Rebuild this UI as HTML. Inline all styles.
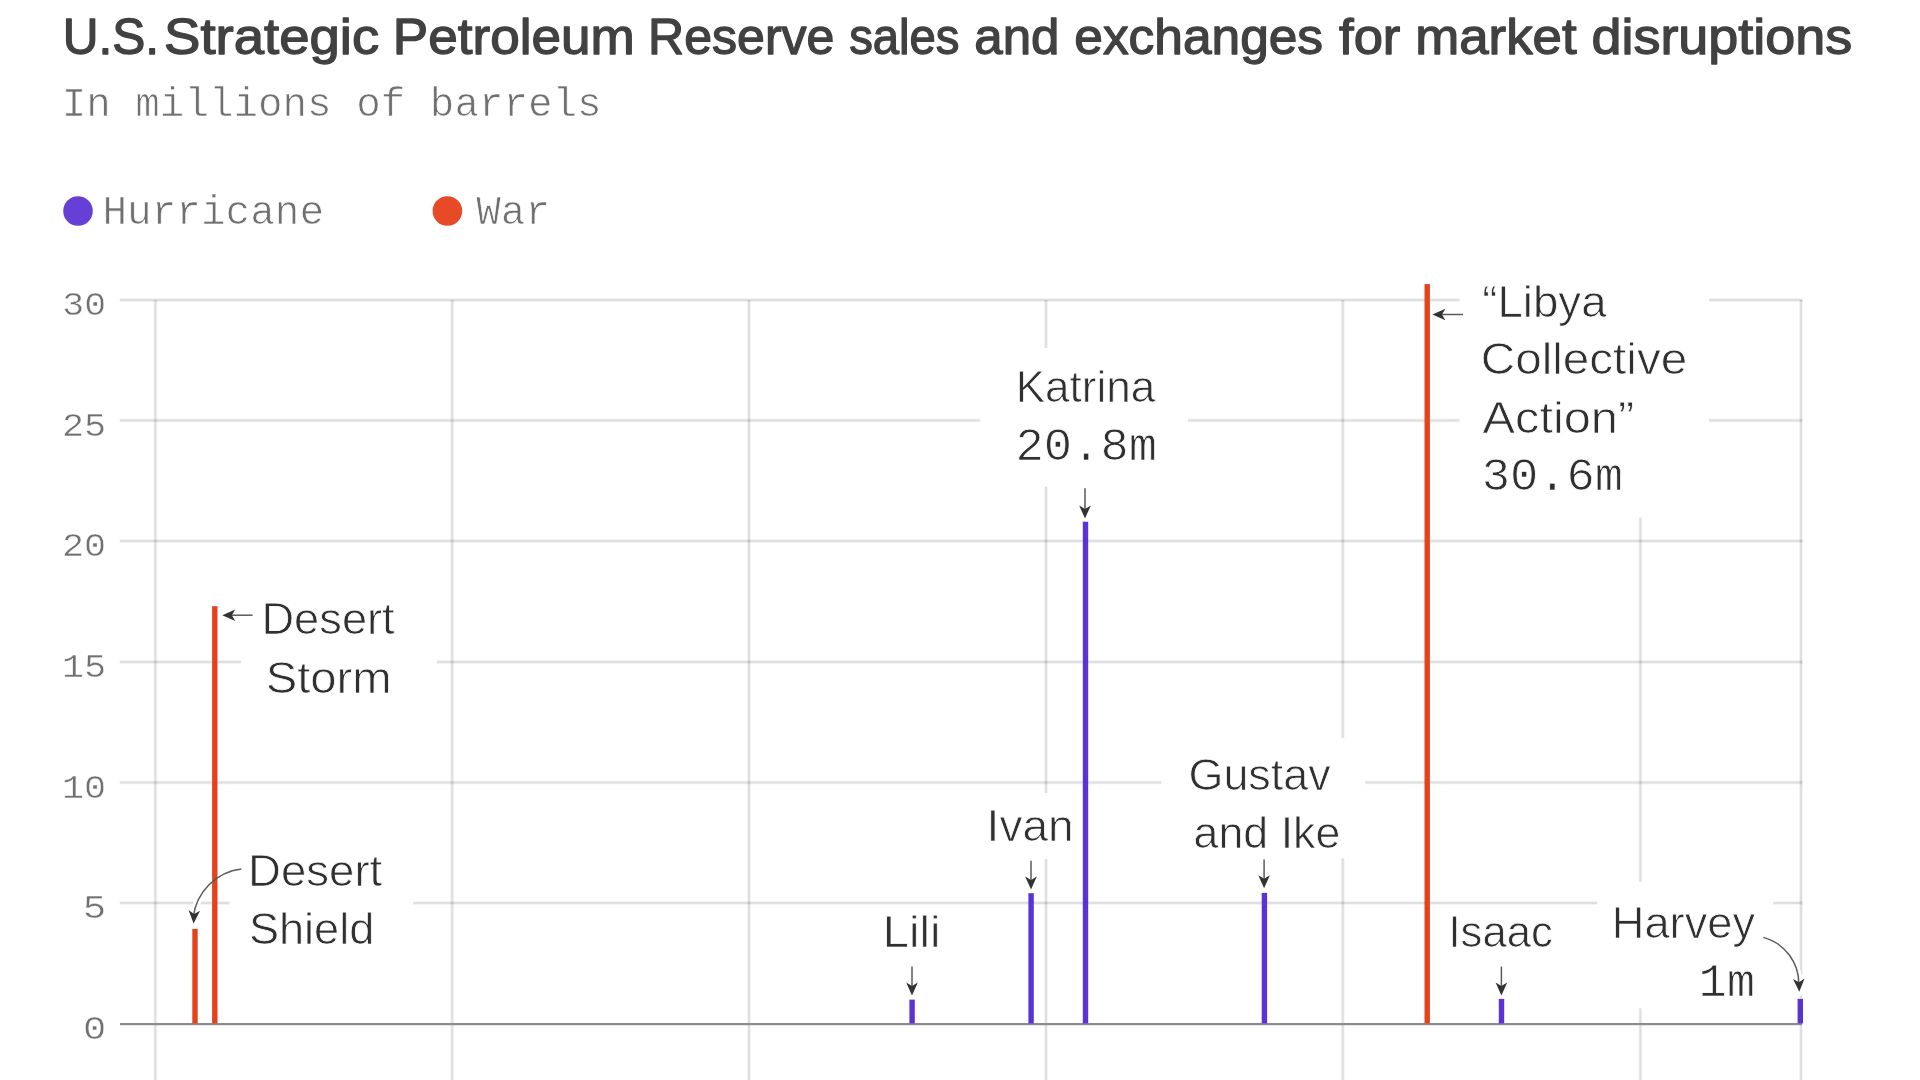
<!DOCTYPE html>
<html lang="en">
<head>
<meta charset="utf-8">
<title>U.S. Strategic Petroleum Reserve sales and exchanges for market disruptions</title>
<style>
html,body{margin:0;padding:0;background:#fff;}
body{width:1920px;height:1080px;overflow:hidden;}
svg{display:block;will-change:transform;}
text{white-space:pre;}
.s{font-family:"Liberation Sans",Arial,Helvetica,sans-serif;}
.m{font-family:"Liberation Mono","DejaVu Sans Mono",monospace;}
</style>
</head>
<body>
<svg width="1920" height="1080" viewBox="0 0 1920 1080" role="img" aria-label="U.S. Strategic Petroleum Reserve sales and exchanges for market disruptions">
<rect width="1920" height="1080" fill="#fff"/>
<g id="grid">
<rect x="119.5" y="298.0" width="1683.5" height="4" fill="rgba(0,0,0,.043)"/>
<rect x="119.5" y="418.5" width="1683.5" height="4" fill="rgba(0,0,0,.043)"/>
<rect x="119.5" y="539.0" width="1683.5" height="4" fill="rgba(0,0,0,.043)"/>
<rect x="119.5" y="660.0" width="1683.5" height="4" fill="rgba(0,0,0,.043)"/>
<rect x="119.5" y="780.5" width="1683.5" height="4" fill="rgba(0,0,0,.043)"/>
<rect x="119.5" y="901.0" width="1683.5" height="4" fill="rgba(0,0,0,.043)"/>
<rect x="153.4" y="300" width="4" height="780" fill="rgba(0,0,0,.043)"/>
<rect x="450.2" y="300" width="4" height="780" fill="rgba(0,0,0,.043)"/>
<rect x="747.0" y="300" width="4" height="780" fill="rgba(0,0,0,.043)"/>
<rect x="1044.0" y="300" width="4" height="780" fill="rgba(0,0,0,.043)"/>
<rect x="1340.8" y="300" width="4" height="780" fill="rgba(0,0,0,.043)"/>
<rect x="1638.4" y="300" width="4" height="780" fill="rgba(0,0,0,.043)"/>
<rect x="1799.0" y="300" width="4" height="780" fill="rgba(0,0,0,.043)"/>
<rect x="120" y="299.0" width="1682" height="2" fill="rgba(0,0,0,.088)"/>
<rect x="120" y="419.5" width="1682" height="2" fill="rgba(0,0,0,.088)"/>
<rect x="120" y="540.0" width="1682" height="2" fill="rgba(0,0,0,.088)"/>
<rect x="120" y="661.0" width="1682" height="2" fill="rgba(0,0,0,.088)"/>
<rect x="120" y="781.5" width="1682" height="2" fill="rgba(0,0,0,.088)"/>
<rect x="120" y="902.0" width="1682" height="2" fill="rgba(0,0,0,.088)"/>
<rect x="154.4" y="300" width="2" height="780" fill="rgba(0,0,0,.088)"/>
<rect x="451.2" y="300" width="2" height="780" fill="rgba(0,0,0,.088)"/>
<rect x="748.0" y="300" width="2" height="780" fill="rgba(0,0,0,.088)"/>
<rect x="1045.0" y="300" width="2" height="780" fill="rgba(0,0,0,.088)"/>
<rect x="1341.8" y="300" width="2" height="780" fill="rgba(0,0,0,.088)"/>
<rect x="1639.4" y="300" width="2" height="780" fill="rgba(0,0,0,.088)"/>
<rect x="1800.0" y="300" width="2" height="780" fill="rgba(0,0,0,.088)"/>
</g>
<g id="label-bg" fill="#fff">
<rect x="241" y="590" width="196.0" height="130.0"/>
<rect x="229.6" y="840" width="183.7" height="120.0"/>
<rect x="1020" y="793" width="50.0" height="66.0"/>
<rect x="980.2" y="348.1" width="207.7" height="138.4"/>
<rect x="1161.3" y="738" width="204.0" height="120.4"/>
<rect x="1459.6" y="262" width="249.5" height="255.5"/>
<rect x="1597.2" y="881.9" width="176.1" height="126.4"/>
</g>
<g id="arrow-bg" fill="#fff" stroke="#fff" stroke-linejoin="round" stroke-linecap="round">
<path d="M252.6 615.2H228.3" fill="none" stroke-width="7"/><path d="M222.3 615.2L235.3 621.0L231.8 615.2L235.3 609.4Z" stroke-width="8"/>
<path d="M1463 314.5H1438.4" fill="none" stroke-width="7"/><path d="M1432.4 314.5L1445.4 320.3L1441.9 314.5L1445.4 308.7Z" stroke-width="8"/>
<path d="M912 966.6V989.5" fill="none" stroke-width="7"/><path d="M912.0 995.5L917.8 982.5L912.0 986.0L906.2 982.5Z" stroke-width="8"/>
<path d="M1031 860.7V883.6" fill="none" stroke-width="7"/><path d="M1031.0 889.6L1036.8 876.6L1031.0 880.1L1025.2 876.6Z" stroke-width="8"/>
<path d="M1085 488.3V512.5" fill="none" stroke-width="7"/><path d="M1085.0 518.5L1090.8 505.5L1085.0 509.0L1079.2 505.5Z" stroke-width="8"/>
<path d="M1264.1 859.5V882.2" fill="none" stroke-width="7"/><path d="M1264.1 888.2L1269.9 875.2L1264.1 878.7L1258.3 875.2Z" stroke-width="8"/>
<path d="M1501.4 966.5V989.6" fill="none" stroke-width="7"/><path d="M1501.4 995.6L1507.2 982.6L1501.4 986.1L1495.6 982.6Z" stroke-width="8"/>
<path d="M241.3 869A55 55 0 0 0 193.3 917" fill="none" stroke-width="7"/><path d="M193.6 923.4L200.1 910.7L194.1 913.9L188.5 910.1Z" stroke-width="8"/>
<path d="M1763.3 937.4A48 48 0 0 1 1798.8 985" fill="none" stroke-width="7"/><path d="M1799.3 991.7L1804.6 978.5L1799.0 982.2L1793.0 978.9Z" stroke-width="8"/>
</g>
<rect id="axis" x="120" y="1023" width="1682" height="2.2" fill="#8c8c8c"/>
<g id="bars">
<rect x="192.3" y="928.9" width="5.4" height="94.5" fill="#e4421a"/>
<rect x="212.1" y="606.2" width="5.4" height="417.2" fill="#e4421a"/>
<rect x="909.4" y="999.6" width="5.4" height="23.8" fill="#5a33d6"/>
<rect x="1028.4" y="893.2" width="5.4" height="130.2" fill="#5a33d6"/>
<rect x="1082.8" y="521.7" width="5.4" height="501.7" fill="#5a33d6"/>
<rect x="1261.7" y="892.9" width="5.4" height="130.5" fill="#5a33d6"/>
<rect x="1424.5" y="284.1" width="5.4" height="739.3" fill="#e4421a"/>
<rect x="1498.8" y="998.9" width="5.4" height="24.5" fill="#5a33d6"/>
<rect x="1797.6" y="998.9" width="5.4" height="24.5" fill="#5a33d6"/>
</g>
<g id="arrows">
<path d="M252.6 615.2H228.3" fill="none" stroke="#5a5a5a" stroke-width="1.5"/><path d="M222.3 615.2L235.3 621.0L231.8 615.2L235.3 609.4Z" fill="#333333"/>
<path d="M1463 314.5H1438.4" fill="none" stroke="#5a5a5a" stroke-width="1.5"/><path d="M1432.4 314.5L1445.4 320.3L1441.9 314.5L1445.4 308.7Z" fill="#333333"/>
<path d="M912 966.6V989.5" fill="none" stroke="#5a5a5a" stroke-width="1.5"/><path d="M912.0 995.5L917.8 982.5L912.0 986.0L906.2 982.5Z" fill="#333333"/>
<path d="M1031 860.7V883.6" fill="none" stroke="#5a5a5a" stroke-width="1.5"/><path d="M1031.0 889.6L1036.8 876.6L1031.0 880.1L1025.2 876.6Z" fill="#333333"/>
<path d="M1085 488.3V512.5" fill="none" stroke="#5a5a5a" stroke-width="1.5"/><path d="M1085.0 518.5L1090.8 505.5L1085.0 509.0L1079.2 505.5Z" fill="#333333"/>
<path d="M1264.1 859.5V882.2" fill="none" stroke="#5a5a5a" stroke-width="1.5"/><path d="M1264.1 888.2L1269.9 875.2L1264.1 878.7L1258.3 875.2Z" fill="#333333"/>
<path d="M1501.4 966.5V989.6" fill="none" stroke="#5a5a5a" stroke-width="1.5"/><path d="M1501.4 995.6L1507.2 982.6L1501.4 986.1L1495.6 982.6Z" fill="#333333"/>
<path d="M241.3 869A55 55 0 0 0 193.3 917" fill="none" stroke="#5a5a5a" stroke-width="1.5"/><path d="M193.6 923.4L200.1 910.7L194.1 913.9L188.5 910.1Z" fill="#333333"/>
<path d="M1763.3 937.4A48 48 0 0 1 1798.8 985" fill="none" stroke="#5a5a5a" stroke-width="1.5"/><path d="M1799.3 991.7L1804.6 978.5L1799.0 982.2L1793.0 978.9Z" fill="#333333"/>
</g>
<text class="s" font-size="49.5" fill="#414141" id="title" stroke="#414141" stroke-width="1.3" stroke-linejoin="round"><tspan x="62.68" y="54.00" textLength="96.35" lengthAdjust="spacingAndGlyphs">U.S.</tspan> <tspan x="164.02" y="54.00" textLength="215.21" lengthAdjust="spacingAndGlyphs">Strategic</tspan> <tspan x="392.85" y="54.00" textLength="241.85" lengthAdjust="spacingAndGlyphs">Petroleum</tspan> <tspan x="648.10" y="54.00" textLength="186.33" lengthAdjust="spacingAndGlyphs">Reserve</tspan> <tspan x="849.18" y="54.00" textLength="110.32" lengthAdjust="spacingAndGlyphs">sales</tspan> <tspan x="974.33" y="54.00" textLength="85.16" lengthAdjust="spacingAndGlyphs">and</tspan> <tspan x="1074.32" y="54.00" textLength="248.74" lengthAdjust="spacingAndGlyphs">exchanges</tspan> <tspan x="1339.06" y="54.00" textLength="61.32" lengthAdjust="spacingAndGlyphs">for</tspan> <tspan x="1415.30" y="54.00" textLength="161.29" lengthAdjust="spacingAndGlyphs">market</tspan> <tspan x="1591.54" y="54.00" textLength="260.61" lengthAdjust="spacingAndGlyphs">disruptions</tspan></text>
<g id="meta" stroke="#fff" stroke-width="0.7">
<text class="m" font-size="40" fill="#707070" id="subtitle"><tspan x="61.67" y="116.00" textLength="540.01" lengthAdjust="spacingAndGlyphs">In millions of barrels</tspan></text>
<g id="legend">
<circle cx="78" cy="211" r="14.8" fill="#6640d6" stroke="none"/>
<text class="m" font-size="40" fill="#707070"><tspan x="102.46" y="224.00" textLength="221.55" lengthAdjust="spacingAndGlyphs">Hurricane</tspan></text>
<circle cx="447.4" cy="211" r="14.8" fill="#e64a26" stroke="none"/>
<text class="m" font-size="40" fill="#707070"><tspan x="476.30" y="224.00" textLength="73.68" lengthAdjust="spacingAndGlyphs">War</tspan></text>
</g>
<g id="yticks" stroke-width="0.45">
<text class="m" font-size="34" fill="#707070"><tspan x="62.32" y="315.20" textLength="43.72" lengthAdjust="spacingAndGlyphs">30</tspan></text>
<text class="m" font-size="34" fill="#707070"><tspan x="62.02" y="435.70" textLength="44.12" lengthAdjust="spacingAndGlyphs">25</tspan></text>
<text class="m" font-size="34" fill="#707070"><tspan x="62.02" y="556.20" textLength="44.04" lengthAdjust="spacingAndGlyphs">20</tspan></text>
<text class="m" font-size="34" fill="#707070"><tspan x="61.94" y="677.20" textLength="44.20" lengthAdjust="spacingAndGlyphs">15</tspan></text>
<text class="m" font-size="34" fill="#707070"><tspan x="61.94" y="797.70" textLength="44.12" lengthAdjust="spacingAndGlyphs">10</tspan></text>
<text class="m" font-size="34" fill="#707070"><tspan x="82.86" y="918.20" textLength="23.42" lengthAdjust="spacingAndGlyphs">5</tspan></text>
<text class="m" font-size="34" fill="#707070"><tspan x="82.96" y="1039.20" textLength="23.22" lengthAdjust="spacingAndGlyphs">0</tspan></text>
</g>
</g>
<g id="labels" stroke="#fff" stroke-width="0.75">
<g>
<text class="s" font-size="44.6" fill="#303030"><tspan x="261.46" y="634.40" textLength="133.20" lengthAdjust="spacingAndGlyphs">Desert</tspan> <tspan x="265.73" y="693.30" textLength="125.92" lengthAdjust="spacingAndGlyphs">Storm</tspan></text>
</g>
<g>
<text class="s" font-size="44.6" fill="#303030"><tspan x="248.13" y="886.00" textLength="134.13" lengthAdjust="spacingAndGlyphs">Desert</tspan> <tspan x="248.92" y="944.40" textLength="125.42" lengthAdjust="spacingAndGlyphs">Shield</tspan></text>
</g>
<g>
<text class="s" font-size="44.6" fill="#303030"><tspan x="882.80" y="946.60" textLength="57.71" lengthAdjust="spacingAndGlyphs">Lili</tspan></text>
</g>
<g>
<text class="s" font-size="44.6" fill="#303030"><tspan x="986.63" y="840.70" textLength="86.89" lengthAdjust="spacingAndGlyphs">Ivan</tspan></text>
</g>
<g>
<text class="s" font-size="44.6" fill="#303030"><tspan x="1015.66" y="402.00" textLength="139.47" lengthAdjust="spacingAndGlyphs">Katrina</tspan></text>
<text class="m" font-size="46" fill="#303030"><tspan x="1015.56" y="460.30" textLength="141.39" lengthAdjust="spacingAndGlyphs">20.8m</tspan></text>
</g>
<g>
<text class="s" font-size="44.6" fill="#303030"><tspan x="1188.51" y="789.80" textLength="142.17" lengthAdjust="spacingAndGlyphs">Gustav</tspan> <tspan x="1193.57" y="848.40" textLength="146.75" lengthAdjust="spacingAndGlyphs">and Ike</tspan></text>
</g>
<g>
<text class="s" font-size="44.6" fill="#303030"><tspan x="1482.30" y="316.50" textLength="124.23" lengthAdjust="spacingAndGlyphs">“Libya</tspan> <tspan x="1480.75" y="374.10" textLength="206.50" lengthAdjust="spacingAndGlyphs">Collective</tspan> <tspan x="1482.57" y="432.50" textLength="151.64" lengthAdjust="spacingAndGlyphs">Action”</tspan></text>
<text class="m" font-size="46" fill="#303030"><tspan x="1481.72" y="490.30" textLength="141.42" lengthAdjust="spacingAndGlyphs">30.6m</tspan></text>
</g>
<g>
<text class="s" font-size="44.6" fill="#303030"><tspan x="1448.44" y="946.80" textLength="104.34" lengthAdjust="spacingAndGlyphs">Isaac</tspan></text>
</g>
<g>
<text class="s" font-size="44.6" fill="#303030"><tspan x="1611.76" y="938.30" textLength="143.36" lengthAdjust="spacingAndGlyphs">Harvey</tspan></text>
<text class="m" font-size="46" fill="#303030"><tspan x="1698.45" y="996.10" textLength="56.81" lengthAdjust="spacingAndGlyphs">1m</tspan></text>
</g>
</g>
</svg>
</body>
</html>
